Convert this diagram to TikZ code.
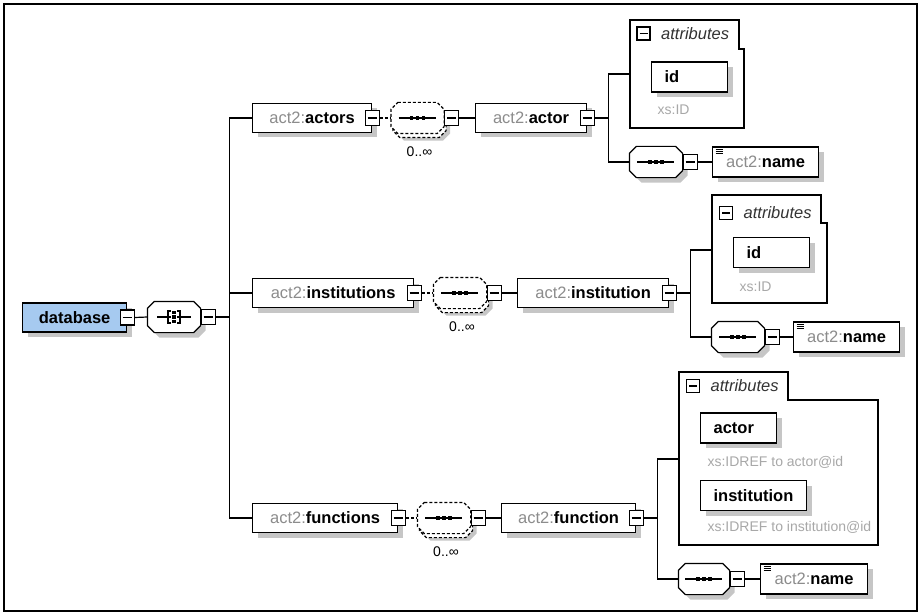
\documentclass[tikz,border=0pt]{standalone}
\usepackage{fontspec}
\setmainfont{Liberation Sans}
\usetikzlibrary{positioning,shadows}

\definecolor{dbblue}{HTML}{A6CAF0}
\definecolor{shadowgray}{HTML}{C6C6C6}
\definecolor{nsgray}{HTML}{8C8C8C}
\definecolor{typegray}{HTML}{A8A8A8}

\newcommand{\elemfont}{\fontsize{16.5}{19}\selectfont}
\newcommand{\smallfont}{\fontsize{14}{16}\selectfont}
\newcommand{\ns}[1]{{\color{nsgray}act2:}\textbf{#1}}

% octagon round a node: node, dx, dy
\newcommand{\octpath}[3]{%
  ([shift={(7pt+#2,#3)}]#1.north west) -- ([shift={(-7pt+#2,#3)}]#1.north east)
  -- ([shift={(#2,-7pt+#3)}]#1.north east) -- ([shift={(#2,7pt+#3)}]#1.south east)
  -- ([shift={(-7pt+#2,#3)}]#1.south east) -- ([shift={(7pt+#2,#3)}]#1.south west)
  -- ([shift={(#2,7pt+#3)}]#1.south west) -- ([shift={(#2,-7pt+#3)}]#1.north west) -- cycle}

% sequence sign
\newcommand{\seqmark}[1]{%
  \draw ([xshift=-19pt]#1.center) -- ([xshift=18pt]#1.center);
  \foreach \dx in {-6pt,0pt,6pt}
    \fill ([xshift=\dx]#1.center) +(-1.9pt,-1.9pt) rectangle +(1.9pt,1.9pt);
}

% all sign
\newcommand{\allmark}[1]{%
  \draw ([xshift=-17pt]#1.center) -- ([xshift=-3pt]#1.center);
  \draw ([xshift=3pt]#1.center) -- ([xshift=17pt]#1.center);
  \draw ([shift={(-3pt,6pt)}]#1.center) -- ++(-3pt,0) -- ++(0,12) -- ++(3pt,0);
  \draw ([shift={(3pt,6pt)}]#1.center) -- ++(3pt,0) -- ++(0,12) -- ++(-3pt,0);
  \foreach \dy in {-4.5pt,0pt,4.5pt}
    \fill ([yshift=\dy]#1.center) +(-1.6pt,-1.6pt) rectangle +(1.6pt,1.6pt);
}

\begin{document}
\begin{tikzpicture}[x=1pt, y=-1pt, line width=1.2pt,
  elem/.style={draw, fill=white, anchor=west, minimum height=29pt, inner sep=0pt,
    font=\elemfont, drop shadow={shadow xshift=5pt, shadow yshift=-5pt, fill=shadowgray, opacity=1}},
  attr/.style={elem, minimum height=30pt, inner xsep=13pt, text width=50pt, align=left},
  simple/.style={path picture={\foreach \k in {2.5pt,4.5pt,6.5pt}
      \draw[line width=.8pt] ([shift={(3pt,-\k)}]path picture bounding box.north west) -- ++(7pt,0);}},
  minus/.style={draw, fill=white, minimum width=14pt, minimum height=15pt, inner sep=0pt,
    path picture={\draw ([xshift=2.5pt]path picture bounding box.west) -- ([xshift=-2.5pt]path picture bounding box.east);}},
  comp/.style={minimum width=52pt, minimum height=30pt, inner sep=0pt},
  optdash/.style={dash pattern=on 3pt off 2pt},
  occ/.style={font=\smallfont, inner sep=0pt},
  type/.style={font=\smallfont, text=typegray, inner sep=0pt, anchor=west},
  hdr/.style={font=\elemfont\itshape, text=black!80, inner sep=0pt}]

\useasboundingbox (0,0) rectangle (921,615);
\draw[line width=2pt] (4,4) rectangle (917,611);

% root
\node[elem, fill=dbblue, minimum width=104pt] (db) at (22,317.5) {\textbf{database}};
\node[minus] (mdb) at (db.east) {};
\node[comp] (all) at (174,317) {};
\fill[shadowgray] \octpath{all}{5pt}{-5pt};
\filldraw[fill=white] \octpath{all}{0pt}{0pt};
\allmark{all}
\node[minus, anchor=west] (mall) at (all.east) {};
\draw (mdb.east) -- (all.west);

% actors
\node[elem, minimum width=119pt] (actors) at (252,118) {\ns{actors}};
\node[minus] (mactors) at (actors.east) {};
\node[comp] (opt1) at (417.5,118) {};
\fill[shadowgray] \octpath{opt1}{6pt}{-7pt};
\filldraw[fill=white, optdash] \octpath{opt1}{2pt}{-4pt};
\filldraw[fill=white, optdash] \octpath{opt1}{0pt}{0pt};
\seqmark{opt1}
\node[occ] at ([shift={(2pt,-34pt)}]opt1.center) {0..∞};
\node[minus, anchor=west] (mopt1) at (opt1.east) {};
\node[elem, minimum width=111pt] (actor) at (475,118) {\ns{actor}};
\node[minus] (mactor) at (actor.east) {};
\draw[optdash] (mactors.east) -- (opt1.west);
\draw (mopt1.east) -- (actor.west);

\coordinate (att1) at (630,74);
\draw[fill=white] (630,20) -- (739,20) -- (739,49) -- (744,49) -- (744,128) -- (630,128) -- cycle;
\node[minus, minimum width=13pt, minimum height=13pt] (amin1) at (643.5,33.5) {};
\node[hdr, right=10pt of amin1] {attributes};
\node[attr] (id1) at (651,77) {\textbf{id}};
\node[type] at (657,110) {xs:ID};

\node[comp] (seq1) at (656,162) {};
\fill[shadowgray] \octpath{seq1}{5pt}{-5pt};
\filldraw[fill=white] \octpath{seq1}{0pt}{0pt};
\seqmark{seq1}
\node[minus, anchor=west] (mseq1) at (seq1.east) {};
\node[elem, simple, minimum height=30pt, minimum width=106pt] (name1) at (712,162) {\ns{name}};
\draw (mactor.east) -- ++(14pt,0) |- (att1);
\draw (mactor.east) -- ++(14pt,0) |- (seq1.west);
\draw (mseq1.east) -- (name1.west);

% institutions
\node[elem, minimum width=161pt] (institutions) at (252,293) {\ns{institutions}};
\node[minus] (minstitutions) at (institutions.east) {};
\node[comp] (opt2) at (460,293) {};
\fill[shadowgray] \octpath{opt2}{6pt}{-7pt};
\filldraw[fill=white, optdash] \octpath{opt2}{2pt}{-4pt};
\filldraw[fill=white, optdash] \octpath{opt2}{0pt}{0pt};
\seqmark{opt2}
\node[occ] at ([shift={(2pt,-34pt)}]opt2.center) {0..∞};
\node[minus, anchor=west] (mopt2) at (opt2.east) {};
\node[elem, minimum width=151pt] (institution) at (517,293) {\ns{institution}};
\node[minus] (minstitution) at (institution.east) {};
\draw[optdash] (minstitutions.east) -- (opt2.west);
\draw (mopt2.east) -- (institution.west);

\coordinate (att2) at (712,250);
\draw[fill=white] (712,195) -- (821,195) -- (821,223) -- (827,223) -- (827,303) -- (712,303) -- cycle;
\node[minus, minimum width=13pt, minimum height=13pt] (amin2) at (726,213) {};
\node[hdr, right=10pt of amin2] {attributes};
\node[attr] (id2) at (733,252.5) {\textbf{id}};
\node[type] at (739,287) {xs:ID};

\node[comp] (seq2) at (738,337) {};
\fill[shadowgray] \octpath{seq2}{5pt}{-5pt};
\filldraw[fill=white] \octpath{seq2}{0pt}{0pt};
\seqmark{seq2}
\node[minus, anchor=west] (mseq2) at (seq2.east) {};
\node[elem, simple, minimum height=30pt, minimum width=106pt] (name2) at (793,337) {\ns{name}};
\draw (minstitution.east) -- ++(14pt,0) |- (att2);
\draw (minstitution.east) -- ++(14pt,0) |- (seq2.west);
\draw (mseq2.east) -- (name2.west);

% functions
\node[elem, minimum width=145pt] (functions) at (252,518) {\ns{functions}};
\node[minus] (mfunctions) at (functions.east) {};
\node[comp] (opt3) at (444,518) {};
\fill[shadowgray] \octpath{opt3}{6pt}{-7pt};
\filldraw[fill=white, optdash] \octpath{opt3}{2pt}{-4pt};
\filldraw[fill=white, optdash] \octpath{opt3}{0pt}{0pt};
\seqmark{opt3}
\node[occ] at ([shift={(2pt,-34pt)}]opt3.center) {0..∞};
\node[minus, anchor=west] (mopt3) at (opt3.east) {};
\node[elem, minimum width=134pt] (function) at (501,518) {\ns{function}};
\node[minus] (mfunction) at (function.east) {};
\draw[optdash] (mfunctions.east) -- (opt3.west);
\draw (mopt3.east) -- (function.west);

\coordinate (att3) at (679,459);
\draw[fill=white] (679,372) -- (788,372) -- (788,400) -- (878,400) -- (878,545) -- (679,545) -- cycle;
\node[minus, minimum width=13pt, minimum height=13pt] (amin3) at (693,386) {};
\node[hdr, right=10pt of amin3] {attributes};
\node[attr] (actorref) at (700,428) {\textbf{actor}};
\node[type] at (707,462) {xs:IDREF to actor@id};
\node[attr, text width=80pt] (instref) at (700,495.5) {\textbf{institution}};
\node[type] at (707,527) {xs:IDREF to institution@id};

\node[comp, minimum width=50pt] (seq3) at (704,579) {};
\fill[shadowgray] \octpath{seq3}{5pt}{-5pt};
\filldraw[fill=white] \octpath{seq3}{0pt}{0pt};
\seqmark{seq3}
\node[minus, anchor=west] (mseq3) at (seq3.east) {};
\node[elem, simple, minimum height=30pt, minimum width=107pt] (name3) at (760,579) {\ns{name}};
\draw (mfunction.east) -- ++(14pt,0) |- (att3);
\draw (mfunction.east) -- ++(14pt,0) |- (seq3.west);
\draw (mseq3.east) -- (name3.west);

% root bus
\draw (mall.east) -- ++(14pt,0) |- (actors.west);
\draw (mall.east) -- ++(14pt,0) |- (institutions.west);
\draw (mall.east) -- ++(14pt,0) |- (functions.west);
\end{tikzpicture}
\end{document}
